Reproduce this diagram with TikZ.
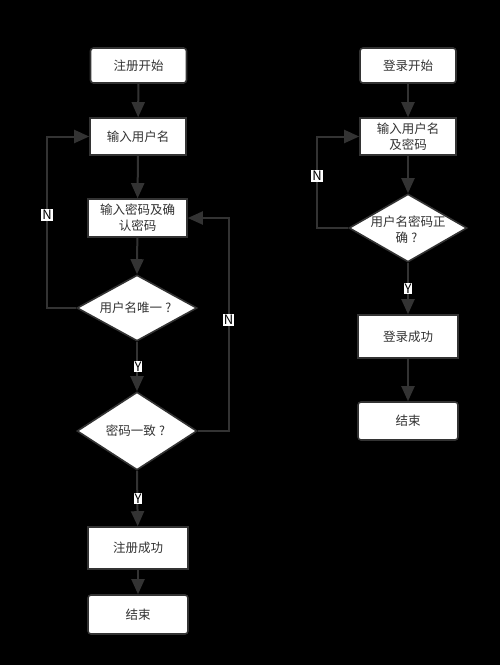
\documentclass[tikz,border=0pt]{standalone}
\usepackage{fontspec}
\setmainfont{Noto Sans CJK SC}
\usetikzlibrary{shapes.geometric,arrows.meta}
\definecolor{ink}{HTML}{333333}
\newcommand{\qm}{\makebox[1em]{?}}
\begin{document}
\begin{tikzpicture}[x=1pt,y=-1pt,
  every node/.style={font=\fontsize{12.5}{16}\selectfont, text=ink},
  procbox/.style={draw=ink, fill=white, line width=1.6pt, rectangle, inner sep=2pt, align=center},
  termbox/.style={procbox, rounded corners=3pt},
  decbox/.style={draw=ink, fill=white, line width=1.6pt, diamond, inner sep=0pt},
  dectext/.style={align=center, inner sep=0pt},
  flow/.style={draw=ink, line width=2pt, -{Triangle[width=13pt,length=15pt]}},
  yn/.style={fill=white, text=black, inner xsep=1pt, inner ysep=0.8pt, font=\fontsize{13}{14}\selectfont}
]
\fill[black] (0,0) rectangle (500,665);
\useasboundingbox (0,0) rectangle (500,665);
% left column
\node[termbox, minimum width=96pt, minimum height=35pt] (s1) at (138.5,65.5) {注册开始};
\node[procbox, minimum width=96pt, minimum height=37pt] (u1) at (138,136.5) {输入用户名};
\node[procbox, minimum width=99pt, minimum height=38pt] (p1) at (137.5,218) {输入密码及确\\认密码};
\node[decbox, minimum width=120pt, minimum height=66pt] (d1) at (137,308) {};
\node[dectext] (d1t) at (d1.center) {用户名唯一\qm};
\node[decbox, minimum width=120pt, minimum height=78pt] (d2) at (137,431) {};
\node[dectext] (d2t) at (d2.center) {密码一致\qm};
\node[procbox, minimum width=100pt, minimum height=42pt] (ok1) at (138,548) {注册成功};
\node[termbox, minimum width=100pt, minimum height=39pt] (e1) at (138,614.5) {结束};
% right column
\node[termbox, minimum width=96pt, minimum height=35pt] (s2) at (408,65.5) {登录开始};
\node[procbox, minimum width=96pt, minimum height=37pt] (u2) at (408,136.5) {输入用户名\\及密码};
\node[decbox, minimum width=118pt, minimum height=68pt] (d3) at (408,228) {};
\node[dectext] (d3t) at (408,229.5) {用户名密码正\\确\qm};
\node[procbox, minimum width=100pt, minimum height=43pt] (ok2) at (408,336.5) {登录成功};
\node[termbox, minimum width=100pt, minimum height=38pt] (e2) at (408,421) {结束};
% loop corners
\coordinate (c1) at (47,308);
\coordinate (c2) at (229,431);
\coordinate (c3) at (317,228);
% connectors left
\draw[flow] (s1) -- (u1);
\draw[flow] (u1) -- (p1);
\draw[flow] (p1) -- (d1.north);
\draw[flow] (d1.south) -- (d2.north);
\draw[flow] (d2.south) -- (ok1);
\draw[flow] (ok1) -- (e1);
\draw[flow] (d1.west) -- (c1) |- (u1.west);
\draw[flow] (d2.east) -- (c2) |- (p1.east);
% connectors right
\draw[flow] (s2) -- (u2);
\draw[flow] (u2) -- (d3.north);
\draw[flow] (d3.south) -- (ok2);
\draw[flow] (ok2) -- (e2);
\draw[flow] (d3.west) -- (c3) |- (u2.west);
% labels
\node[yn] (y1) at (138,366.5) {Y};
\node[yn] (y2) at (138,498.5) {Y};
\node[yn] (y3) at (408,288.5) {Y};
\node[yn] (n1) at (47,215) {N};
\node[yn] (n2) at (228.5,320) {N};
\node[yn] (n3) at (317,176) {N};
\end{tikzpicture}
\end{document}
